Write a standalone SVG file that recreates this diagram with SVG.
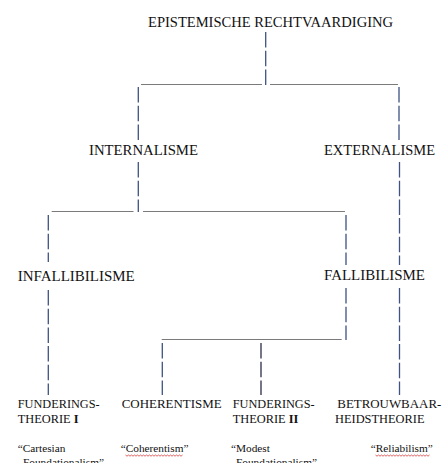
<svg xmlns="http://www.w3.org/2000/svg" width="444" height="463" viewBox="0 0 444 463">
<style>
text{font-family:"Liberation Serif","Times New Roman",serif;fill:#111}
.l1{font-size:14.8px}
.l2{font-size:12.4px}
.q{font-size:11.3px}
.v{stroke:#3f5282;stroke-width:1.3;stroke-dasharray:15.5 3.2;fill:none}
.v2{stroke:#2b2f4a;stroke-width:1.3;stroke-dasharray:15.5 3.2;fill:none}
.h{stroke:#7a7a7a;stroke-width:1.2;fill:none}
.sp{stroke:#d43a3a;stroke-width:0.8;fill:none}
</style>
<rect width="444" height="463" fill="#fff"/>
<g id="connectors">
<line class="v" x1="265.7" y1="32" x2="265.7" y2="85"/>
<line class="h" x1="141" y1="84.5" x2="262" y2="84.5"/>
<line class="h" x1="270" y1="84.5" x2="398" y2="84.5"/>
<line class="v" x1="138.3" y1="87" x2="138.3" y2="140"/>
<line class="v" x1="399" y1="87" x2="399" y2="140"/>
<line class="v" x1="138.3" y1="162" x2="138.3" y2="212"/>
<line class="h" x1="51.7" y1="211.5" x2="133.5" y2="211.5"/>
<line class="h" x1="143" y1="211.5" x2="345" y2="211.5"/>
<line class="v" x1="48.3" y1="215" x2="48.3" y2="262"/>
<line class="v" x1="346" y1="215" x2="346" y2="265"/>
<line class="v" x1="399.5" y1="162" x2="399.5" y2="265"/>
<line class="v" x1="48.3" y1="290" x2="48.3" y2="395"/>
<line class="v" x1="346" y1="288" x2="346" y2="340"/>
<line class="v" x1="399.5" y1="288" x2="399.5" y2="395"/>
<line class="h" x1="161.7" y1="339.5" x2="341.7" y2="339.5"/>
<line class="v" x1="162.3" y1="343" x2="162.3" y2="395"/>
<line class="v2" x1="261" y1="343" x2="261" y2="395"/>
</g>
<g id="n-epistemische">
<text class="l1" x="148" y="27" textLength="245" lengthAdjust="spacingAndGlyphs">EPISTEMISCHE RECHTVAARDIGING</text>
</g>
<g id="n-internalisme">
<text class="l1" x="89" y="155" textLength="109" lengthAdjust="spacingAndGlyphs">INTERNALISME</text>
</g>
<g id="n-externalisme">
<text class="l1" x="324" y="155" textLength="111" lengthAdjust="spacingAndGlyphs">EXTERNALISME</text>
</g>
<g id="n-infallibilisme">
<text class="l1" x="17.7" y="281" textLength="117" lengthAdjust="spacingAndGlyphs">INFALLIBILISME</text>
</g>
<g id="n-fallibilisme">
<text class="l1" x="324" y="280" textLength="101" lengthAdjust="spacingAndGlyphs">FALLIBILISME</text>
</g>
<g id="n-funderings1">
<text class="l2" x="17.7" y="407.5" textLength="82" lengthAdjust="spacingAndGlyphs">FUNDERINGS-</text>
<text class="l2" x="17.7" y="423">THEORIE <tspan font-weight="bold">I</tspan></text>
<text class="q" x="17.7" y="452">“Cartesian</text>
<text class="q" x="23" y="466">Foundationalism”</text>
</g>
<g id="n-coherentisme">
<text class="l2" x="121.7" y="407.5" textLength="100" lengthAdjust="spacingAndGlyphs">COHERENTISME</text>
<text class="q" x="120.7" y="452">“Coherentism”</text>
<path class="sp" d="M125.5 455 l1.5 1.2 l1.5 -1.2 l1.5 1.2 l1.5 -1.2 l1.5 1.2 l1.5 -1.2 l1.5 1.2 l1.5 -1.2 l1.5 1.2 l1.5 -1.2 l1.5 1.2 l1.5 -1.2 l1.5 1.2 l1.5 -1.2 l1.5 1.2 l1.5 -1.2 l1.5 1.2 l1.5 -1.2 l1.5 1.2 l1.5 -1.2 l1.5 1.2 l1.5 -1.2 l1.5 1.2 l1.5 -1.2 l1.5 1.2 l1.5 -1.2 l1.5 1.2 l1.5 -1.2 l1.5 1.2 l1.5 -1.2 l1.5 1.2 l1.5 -1.2 l1.5 1.2 l1.5 -1.2 l1.5 1.2 l1.5 -1.2 l1.5 1.2 l1.5 -1.2"/>
</g>
<g id="n-funderings2">
<text class="l2" x="232.7" y="407.5" textLength="82" lengthAdjust="spacingAndGlyphs">FUNDERINGS-</text>
<text class="l2" x="232.7" y="423">THEORIE <tspan font-weight="bold">II</tspan></text>
<text class="q" x="231" y="452">“Modest</text>
<text class="q" x="236" y="466">Foundationalism”</text>
</g>
<g id="n-betrouwbaarheid">
<text class="l2" x="337.3" y="407.5" textLength="104" lengthAdjust="spacingAndGlyphs">BETROUWBAAR-</text>
<text class="l2" x="335" y="423">HEIDSTHEORIE</text>
<text class="q" x="370.7" y="452">“Reliabilism”</text>
<path class="sp" d="M375.5 455 l1.5 1.2 l1.5 -1.2 l1.5 1.2 l1.5 -1.2 l1.5 1.2 l1.5 -1.2 l1.5 1.2 l1.5 -1.2 l1.5 1.2 l1.5 -1.2 l1.5 1.2 l1.5 -1.2 l1.5 1.2 l1.5 -1.2 l1.5 1.2 l1.5 -1.2 l1.5 1.2 l1.5 -1.2 l1.5 1.2 l1.5 -1.2 l1.5 1.2 l1.5 -1.2 l1.5 1.2 l1.5 -1.2 l1.5 1.2 l1.5 -1.2 l1.5 1.2 l1.5 -1.2 l1.5 1.2 l1.5 -1.2 l1.5 1.2 l1.5 -1.2 l1.5 1.2 l1.5 -1.2 l1.5 1.2 l1.5 -1.2"/>
</g>
</svg>
